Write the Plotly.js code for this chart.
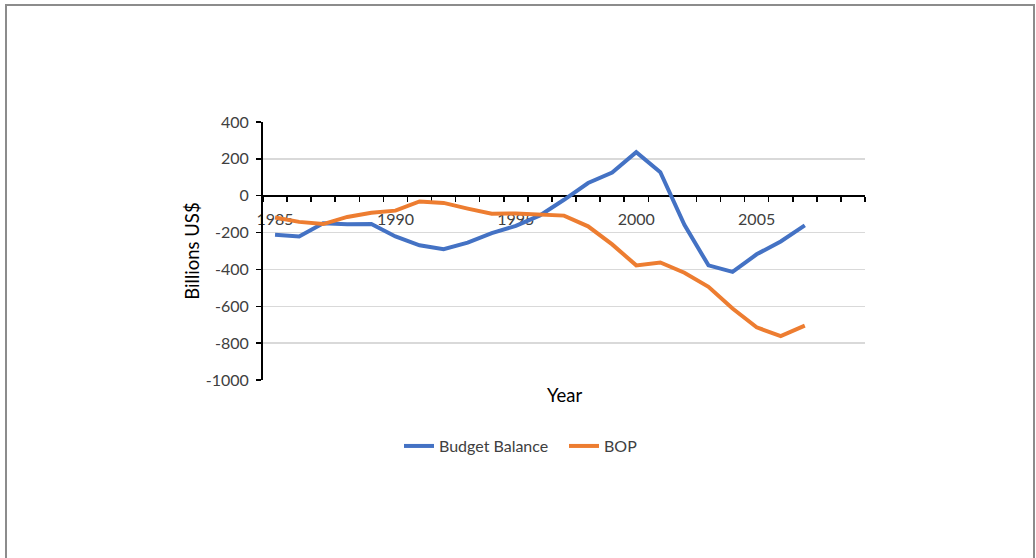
<!DOCTYPE html>
<html>
<head>
<meta charset="utf-8">
<script src="https://cdn.plot.ly/plotly-3.0.1.min.js"></script>
<style>
  html, body { margin: 0; padding: 0; background: #ffffff; overflow: hidden; }
  #chart { position: absolute; left: 0; top: 0; width: 1036px; height: 558px; }
  #frame { position: absolute; left: 5px; top: 4px; width: 1026px; height: 600px;
           border: 2px solid #8c8c8c; pointer-events: none; }
</style>
</head>
<body>
<div id="chart"></div>
<div id="frame"></div>
<script>
// ---- data ----
const years = [1985,1986,1987,1988,1989,1990,1991,1992,1993,1994,1995,1996,
               1997,1998,1999,2000,2001,2002,2003,2004,2005,2006,2007];
const budgetBalance = [-212,-221,-150,-155,-153,-221,-269,-290,-255,-203,-164,-107,
                       -22,69,126,236,128,-158,-378,-413,-318,-248,-161];
const bop = [-118,-142,-154,-115,-92,-81,-31,-39,-70,-98,-96,-104,
             -108,-166,-264,-378,-362,-418,-494,-612,-714,-762,-705];
const xTickLabels = [1985,1990,1995,2000,2005];
const yTickValues = [400,200,0,-200,-400,-600,-800,-1000];
const seriesNames = ['Budget Balance','BOP'];

const FONT = 'Lato, Calibri, "Liberation Sans", sans-serif';
const yMin = -1000, yMax = 400;

const traces = [
  { x: years, y: budgetBalance, name: seriesNames[0], type: 'scatter', mode: 'lines',
    line: { color: '#4472C4', width: 4 } },
  { x: years, y: bop, name: seriesNames[1], type: 'scatter', mode: 'lines',
    line: { color: '#ED7D31', width: 4 } }
];

const layout = {
  width: 1036, height: 558,
  margin: { l: 263, r: 171, t: 122, b: 178, pad: 0 },
  paper_bgcolor: '#ffffff', plot_bgcolor: '#ffffff',
  font: { family: FONT, size: 16, color: '#404040' },
  showlegend: true,
  legend: { orientation: 'h', x: 0.5, xanchor: 'center', y: -0.256, yanchor: 'middle',
            entrywidth: 120,
            font: { family: FONT, size: 16, color: '#404040' }, bgcolor: 'rgba(0,0,0,0)' },
  xaxis: {
    type: 'linear', range: [1984.5, 2009.5],
    anchor: 'free', position: (0 - yMin) / (yMax - yMin),
    showline: true, linecolor: '#000000', linewidth: 2,
    tickmode: 'array', tickvals: xTickLabels, ticktext: xTickLabels.map(String),
    ticks: '', ticklabelstandoff: 9,
    minor: { tick0: 1984.5, dtick: 1, ticks: 'outside', ticklen: 5, tickwidth: 1.5,
             tickcolor: '#000000', showgrid: false },
    showgrid: false, zeroline: false, layer: 'below traces',
    tickfont: { family: FONT, size: 16, color: '#404040' }
  },
  yaxis: {
    range: [yMin, yMax], tickmode: 'array', tickvals: yTickValues,
    ticktext: yTickValues.map(String),
    showline: true, linecolor: '#000000', linewidth: 2,
    ticks: 'outside', ticklen: 5, tickwidth: 1.5, tickcolor: '#000000', ticklabelstandoff: 4,
    showgrid: true, gridcolor: '#d9d9d9', gridwidth: 1.5, zeroline: false,
    tickfont: { family: FONT, size: 16, color: '#404040' },
    title: { text: 'Billions US$', standoff: 1, font: { family: FONT, size: 18.5, color: '#000000' } }
  },
  annotations: [
    { text: 'Year', xref: 'paper', yref: 'paper', x: 0.5, y: -0.06,
      xanchor: 'center', yanchor: 'middle', showarrow: false,
      font: { family: FONT, size: 18.5, color: '#000000' } }
  ]
};

Plotly.newPlot('chart', traces, layout, { staticPlot: true, displayModeBar: false });
</script>
</body>
</html>
